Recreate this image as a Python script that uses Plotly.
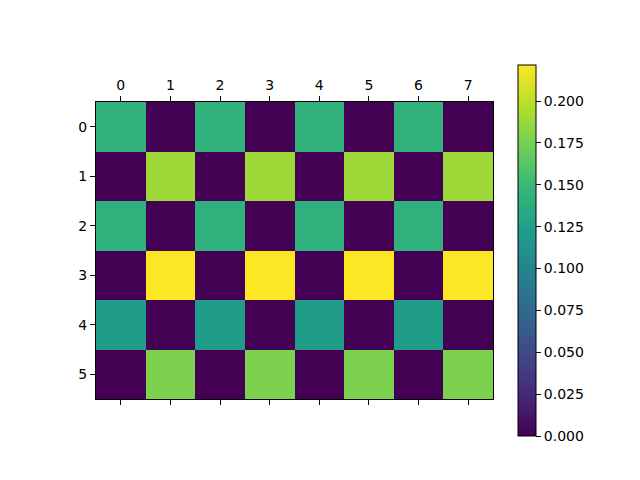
import plotly.graph_objects as go

row_labels = [0, 1, 2, 3, 4, 5]
col_labels = [0, 1, 2, 3, 4, 5, 6, 7]
row0 = [0.143, 0.0, 0.143, 0.0, 0.143, 0.0, 0.143, 0.0]
row1 = [0.0, 0.189, 0.0, 0.189, 0.0, 0.189, 0.0, 0.189]
row2 = [0.141, 0.0, 0.141, 0.0, 0.141, 0.0, 0.141, 0.0]
row3 = [0.0, 0.2215, 0.0, 0.2215, 0.0, 0.2215, 0.0, 0.2215]
row4 = [0.122, 0.0, 0.122, 0.0, 0.122, 0.0, 0.122, 0.0]
row5 = [0.0, 0.177, 0.0, 0.177, 0.0, 0.177, 0.0, 0.177]
z = [row0, row1, row2, row3, row4, row5]
zmax = max(max(r) for r in z)

W, H = 640, 480
OFF = 8  # page body margin in the browser
fig = go.Figure(go.Heatmap(
    z=z, x=col_labels, y=row_labels, colorscale="Viridis", zmin=0, zmax=zmax,
    hoverinfo="skip",
    colorbar=dict(
        x=(518 - OFF) / W, xanchor="left", xref="paper",
        y=1 - (250.5 - OFF) / H, yanchor="middle", yref="paper",
        len=371 / H, lenmode="fraction", thickness=18, thicknessmode="pixels",
        outlinecolor="black", outlinewidth=1,
        tickmode="linear", tick0=0, dtick=0.025, tickformat=".3f",
        ticks="outside", ticklen=5, tickcolor="black",
        tickfont=dict(family="DejaVu Sans", size=14, color="black"),
        xpad=0, ypad=0,
    ),
))

axis_font = dict(family="DejaVu Sans", size=14, color="black")
fig.update_layout(
    width=W, height=H, autosize=False,
    paper_bgcolor="white", plot_bgcolor="white",
    margin=dict(l=0, r=0, t=0, b=0, autoexpand=False),
    xaxis=dict(domain=[(96 - OFF) / W, (493 - OFF) / W], side="top", tickmode="array",
               tickvals=col_labels, ticks="outside", ticklen=5, tickcolor="black",
               showline=True, linecolor="black", linewidth=1, mirror="ticks",
               showgrid=False, zeroline=False, tickfont=axis_font,
               range=[-0.5, 7.5], automargin=False),
    yaxis=dict(domain=[1 - (399 - OFF) / H, 1 - (102 - OFF) / H], tickmode="array",
               tickvals=row_labels, ticks="outside", ticklen=5, tickcolor="black",
               showline=True, linecolor="black", linewidth=1, mirror=True,
               showgrid=False, zeroline=False, tickfont=axis_font,
               range=[5.5, -0.5], automargin=False),
)
fig.write_html("out.html")
